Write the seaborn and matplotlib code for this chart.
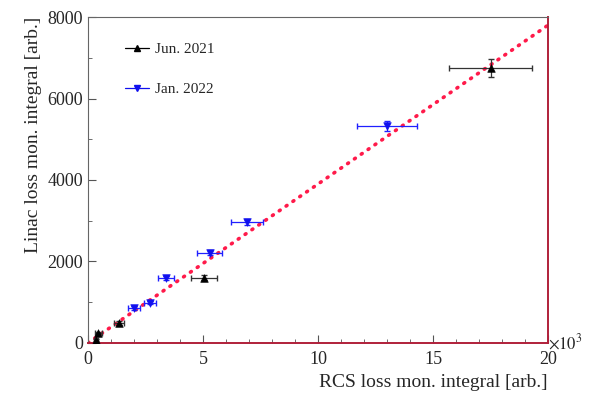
import matplotlib
matplotlib.use("Agg")
import matplotlib.pyplot as plt
import seaborn as sns
import pandas as pd
import numpy as np
from matplotlib.lines import Line2D
from matplotlib.ticker import MultipleLocator

# Data (x in units of 10^3)
jun_x = [0.35, 0.45, 1.35, 5.05, 17.5]
jun_y = [70, 240, 490, 1600, 6750]
jun_xerr = [0.1, 0.15, 0.2, 0.55, 1.8]
jun_yerr = [20, 30, 40, 60, 210]

jan_x = [2.0, 2.7, 3.4, 5.3, 6.9, 13.0]
jan_y = [860, 990, 1600, 2210, 2960, 5330]
jan_xerr = [0.25, 0.25, 0.35, 0.55, 0.7, 1.3]
jan_yerr = [40, 40, 50, 60, 70, 120]

fit_x = [0.0, 20.0]
fit_y = [0.0, 7800.0]

sns.set_style("ticks")
plt.rcParams['font.family'] = ['Liberation Serif', 'DejaVu Serif']
plt.rcParams['mathtext.fontset'] = 'stix'

fig = plt.figure(figsize=(5.94, 3.96), dpi=100)
ax = fig.add_axes([0.148, 0.134, 0.7746, 0.823])

fit = pd.DataFrame({'x': fit_x, 'y': fit_y})
sns.lineplot(data=fit, x='x', y='y', ax=ax, color='#ff1a4a', lw=2.6,
             linestyle=(0, (0.3, 2.0)), zorder=1)
ax.lines[-1].set_dash_capstyle('round')

ax.errorbar(jun_x, jun_y, xerr=jun_xerr, yerr=jun_yerr, fmt='none',
            ecolor='#333333', elinewidth=0.9, capsize=2, zorder=2)
ax.errorbar(jan_x, jan_y, xerr=jan_xerr, yerr=jan_yerr, fmt='none',
            ecolor='#2020ff', elinewidth=0.9, capsize=2, zorder=2)

jun = pd.DataFrame({'x': jun_x, 'y': jun_y})
jan = pd.DataFrame({'x': jan_x, 'y': jan_y})
sns.scatterplot(data=jun, x='x', y='y', ax=ax, marker='^', color='black',
                s=30, edgecolor='black', zorder=3)
sns.scatterplot(data=jan, x='x', y='y', ax=ax, marker='v', color='#1010ee',
                s=30, edgecolor='#1010ee', zorder=3)

ax.set_xlim(0, 20)
ax.set_ylim(0, 8000)
ax.xaxis.set_major_locator(MultipleLocator(5))
ax.xaxis.set_minor_locator(MultipleLocator(1))
ax.yaxis.set_major_locator(MultipleLocator(2000))
ax.yaxis.set_minor_locator(MultipleLocator(1000))
ax.tick_params(which='both', direction='in', top=False, right=False,
               labelsize=13, color='#555555')
ax.tick_params(which='major', length=6, width=0.8)
ax.tick_params(which='minor', length=3, width=0.6)
ax.tick_params(axis='x', pad=6)

for s in ['top', 'left']:
    ax.spines[s].set_color('#666666')
    ax.spines[s].set_linewidth(0.8)
for s in ['bottom', 'right']:
    ax.spines[s].set_color('#b0203a')
    ax.spines[s].set_linewidth(1.4)

ax.set_xlabel('RCS loss mon. integral [arb.]', fontsize=14, loc='right')
ax.set_ylabel('Linac loss mon. integral [arb.]', fontsize=14, loc='top')
ax.text(1.0, 0.0, r'$\times10^{3}$', transform=ax.transAxes, fontsize=12,
        ha='left', va='center')

handles = [
    Line2D([0], [0], color='black', marker='^', markersize=4.5, lw=0.9),
    Line2D([0], [0], color='#1010ee', marker='v', markersize=4.5, lw=0.9),
]
ax.legend(handles, ['Jun. 2021', 'Jan. 2022'], loc='upper left',
          bbox_to_anchor=(0.05, 0.965), frameon=False, fontsize=11,
          labelspacing=1.75, handlelength=1.6, handletextpad=0.4)

fig.savefig('out.png', dpi=100)
